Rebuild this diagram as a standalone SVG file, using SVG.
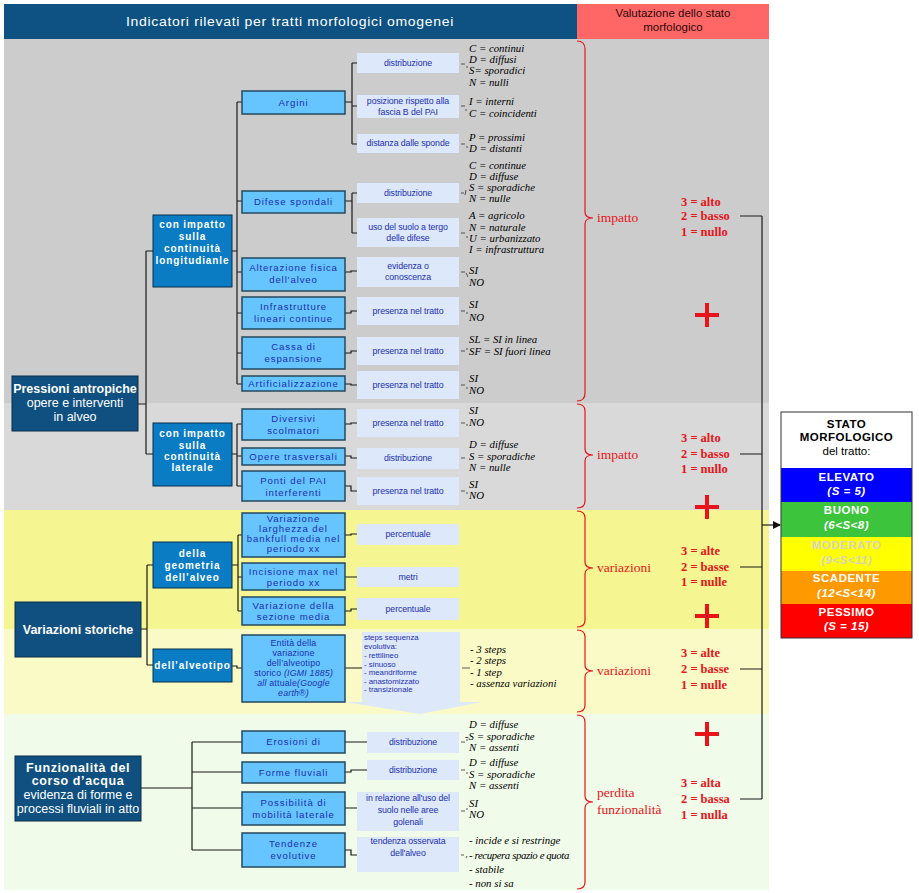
<svg xmlns="http://www.w3.org/2000/svg" width="919" height="893" viewBox="0 0 919 893">
<defs>
<style>
.sans{font-family:"Liberation Sans",Arial,sans-serif}
.hdr{font-family:"Liberation Sans",Arial,sans-serif;fill:#fff;font-size:12.5px;letter-spacing:0.6px}
.dark{fill:#0f5080;stroke:#0a2f4a;stroke-width:1}
.med{fill:#0a7cc4;stroke:#0a2f4a;stroke-width:1}
.lb{fill:#66c5ff;stroke:#24485f;stroke-width:1.5}
.pale{fill:#dde8fa}
.tdark{font-family:"Liberation Sans",Arial,sans-serif;fill:#fff;font-size:12.5px;text-anchor:middle}
.tmed{font-family:"Liberation Sans",Arial,sans-serif;fill:#fff;font-size:10px;font-weight:bold;text-anchor:middle;letter-spacing:0.9px}
.tlb{font-family:"Liberation Sans",Arial,sans-serif;fill:#1b2fb0;font-size:9.6px;text-anchor:middle;letter-spacing:0.9px}
.tent{font-family:"Liberation Sans",Arial,sans-serif;fill:#1b2fb0;font-size:8.8px;text-anchor:middle;letter-spacing:0.2px}
.tp{font-family:"Liberation Sans",Arial,sans-serif;fill:#1b2fb0;font-size:8.8px;text-anchor:middle;letter-spacing:-0.1px}
.tpl{font-family:"Liberation Sans",Arial,sans-serif;fill:#1b2fb0;font-size:7.8px}
.val{font-family:"Liberation Serif","Times New Roman",serif;font-style:italic;font-size:10.8px;fill:#000}
.red{font-family:"Liberation Serif","Times New Roman",serif;font-size:13.5px;fill:#e8141b}
.score{font-family:"Liberation Serif","Times New Roman",serif;font-size:12.5px;fill:#e8141b;font-weight:bold}
.conn{fill:none;stroke:#1a1a1a;stroke-width:1.2}
.dash{fill:none;stroke:#333;stroke-width:0.8}
.brace{fill:none;stroke:#e8141b;stroke-width:1.2}
.plus{fill:none;stroke:#e8141b;stroke-width:4}
.st{font-family:"Liberation Sans",Arial,sans-serif;font-size:11.5px;text-anchor:middle;font-weight:bold;letter-spacing:0.5px}
</style>
<marker id="arr" markerWidth="8" markerHeight="8" refX="7" refY="4" orient="auto" markerUnits="userSpaceOnUse">
<path d="M0,0 L8,4 L0,8 Z" fill="#111"/>
</marker>
</defs>
<rect width="919" height="893" fill="#fff"/>
<!-- bands -->
<rect x="4" y="39" width="765" height="364" fill="#cccccc"/>
<rect x="4" y="403" width="765" height="107" fill="#d9d9d9"/>
<rect x="4" y="510" width="765" height="119" fill="#f5f591"/>
<rect x="4" y="629" width="765" height="85" fill="#fafac6"/>
<rect x="4" y="714" width="765" height="176" fill="#f0fbe9"/>
<!-- headers -->
<g id="header">
<rect x="4" y="4" width="573" height="35" fill="#0d5282"/>
<text class="hdr" x="290" y="26" text-anchor="middle" textLength="328" lengthAdjust="spacingAndGlyphs">Indicatori rilevati per tratti morfologici omogenei</text>
<rect x="577" y="4" width="192" height="35" fill="#ff6666"/>
<text class="sans" x="673" y="17" text-anchor="middle" font-size="11.5" fill="#2a0a0a">Valutazione dello stato</text>
<text class="sans" x="673" y="31" text-anchor="middle" font-size="11.5" fill="#2a0a0a">morfologico</text>
</g>
<!-- connectors -->
<g id="connectors">
<path class="conn" d="M138,404 H146 M146,251 V454 M146,251 H153 M146,454 H153"/>
<path class="conn" d="M232,251 H237 M237,102 V384 M237,102 H242 M237,201 H242 M237,272 H242 M237,313 H242 M237,353 H242 M237,384 H242"/>
<path class="conn" d="M232,454 H237 M237,424 V486 M237,424 H242 M237,456 H242 M237,486 H242"/>
<path class="conn" d="M345,102 H352 M352,63 V144 M352,63 H357 M352,106 H357 M352,144 H357"/>
<path class="conn" d="M345,201 H352 M352,193 V233 M352,193 H357 M352,233 H357"/>
<path class="conn" d="M345,272 H351 V271 H357 M345,313 H351 V311 H357 M345,353 H351 V351 H357 M345,384 H351 V385 H357 M345,424 H351 V423 H357 M345,456 H351 V458 H357 M345,486 H351 V491 H357"/>
<path class="conn" d="M141,629 H147 M147,565 V665 M147,565 H153 M147,665 H153"/>
<path class="conn" d="M232,565 H238 M238,535 V611 M238,535 H242 M238,577 H242 M238,611 H242"/>
<path class="conn" d="M232,666 H237 V668 H242"/>
<path class="conn" d="M345,535 H351 V534 H357 M345,577 H357 M345,611 H351 V609 H357 M345,668 H362"/>
<path class="conn" d="M141,788 H192 M192,742 V850 M192,742 H242 M192,772 H242 M192,808 H242 M192,850 H242"/>
<path class="conn" d="M345,742 H367 M345,772 H351 V770 H367 M345,808 H367 M345,850 H351 V855 H367"/>
<!-- small dashes to values -->
<path class="dash" d="M461,64 H465 M466,67 L468,67 M461,106 H465 M465,110 H467 M461,144 H465 M466,147 H468 M461,193 H464 M466,190 L465,195 M461,233 H465 M466,237 H468 M461,272 H465 M466,273 L468,277 M461,311 H465 M466,313 H468 M461,351 H465 M466,349 H468 M461,385 H465 M466,388 H468 M461,423 H465 M466,425 H468 M461,458 H465 M461,491 H465 M466,493 H468 M462,668 H470 M461,742 H465 M466,740 H468 M461,770 H465 M466,773 H468 M461,811 H465 M466,809 H468 M461,855 H464 M466,858 L467,856"/>
<!-- to state box -->
<path class="conn" d="M740,216 H762 M740,454 H762 M740,567 H762 M740,669 H762 M740,799 H762 M762,216 V799"/>
<path class="conn" d="M762,525 H780" marker-end="url(#arr)"/>
</g>
<!-- level 1 -->
<g id="n-pressioni">
<rect class="dark" x="12" y="376" width="126" height="55"/>
<text class="tdark" x="75" y="393" font-weight="bold">Pressioni antropiche</text>
<text class="tdark" x="75" y="407">opere e interventi</text>
<text class="tdark" x="75" y="421">in alveo</text>
</g>
<g id="n-variazioni">
<rect class="dark" x="15" y="602" width="126" height="55"/>
<text class="tdark" x="78" y="634" font-weight="bold">Variazioni storiche</text>
</g>
<g id="n-funzionalita">
<rect class="dark" x="15" y="756" width="126" height="65"/>
<text class="tdark" x="78" y="772" font-weight="bold" letter-spacing="0.6">Funzionalità del</text>
<text class="tdark" x="78" y="785" font-weight="bold" letter-spacing="0.6">corso d’acqua</text>
<text class="tdark" x="78" y="799">evidenza di forme e</text>
<text class="tdark" x="78" y="813">processi fluviali in atto</text>
</g>
<!-- level 2 -->
<g id="n-longitudinale">
<rect class="med" x="153" y="215" width="79" height="72"/>
<text class="tmed" x="192.5" y="228">con impatto</text>
<text class="tmed" x="192.5" y="240">sulla</text>
<text class="tmed" x="192.5" y="252">continuità</text>
<text class="tmed" x="192.5" y="264" letter-spacing="0.3">longitudianle</text>
</g>
<g id="n-laterale">
<rect class="med" x="153" y="423" width="79" height="63"/>
<text class="tmed" x="192.5" y="437">con impatto</text>
<text class="tmed" x="192.5" y="449">sulla</text>
<text class="tmed" x="192.5" y="460">continuità</text>
<text class="tmed" x="192.5" y="471">laterale</text>
</g>
<g id="n-geometria">
<rect class="med" x="153" y="542" width="79" height="46"/>
<text class="tmed" x="192.5" y="557">della</text>
<text class="tmed" x="192.5" y="569">geometria</text>
<text class="tmed" x="192.5" y="581">dell’alveo</text>
</g>
<g id="n-alveotipo">
<rect class="med" x="153" y="649" width="79" height="33"/>
<text class="tmed" x="192.5" y="669" letter-spacing="0.5">dell’alveotipo</text>
</g>
<!-- level 3 -->
<g id="n-argini"><rect class="lb" x="242" y="91" width="103" height="23"/><text class="tlb" x="293.5" y="106">Argini</text></g>
<g id="n-difese"><rect class="lb" x="242" y="191" width="103" height="22"/><text class="tlb" x="293.5" y="205">Difese spondali</text></g>
<g id="n-alterazione"><rect class="lb" x="242" y="258" width="103" height="33"/><text class="tlb" x="293.5" y="271">Alterazione fisica</text><text class="tlb" x="293.5" y="283">dell'alveo</text></g>
<g id="n-infrastrutture"><rect class="lb" x="242" y="297" width="103" height="32"/><text class="tlb" x="293.5" y="310">Infrastrutture</text><text class="tlb" x="293.5" y="322">lineari continue</text></g>
<g id="n-cassa"><rect class="lb" x="242" y="337" width="103" height="32"/><text class="tlb" x="293.5" y="350">Cassa di</text><text class="tlb" x="293.5" y="362">espansione</text></g>
<g id="n-artificializzazione"><rect class="lb" x="242" y="376" width="103" height="15"/><text class="tlb" x="293.5" y="387" letter-spacing="0.5">Artificializzazione</text></g>
<g id="n-diversivi"><rect class="lb" x="242" y="409" width="103" height="31"/><text class="tlb" x="293.5" y="422">Diversivi</text><text class="tlb" x="293.5" y="434">scolmatori</text></g>
<g id="n-opere"><rect class="lb" x="242" y="448" width="103" height="17"/><text class="tlb" x="293.5" y="460" letter-spacing="0.6">Opere trasversali</text></g>
<g id="n-ponti"><rect class="lb" x="242" y="471" width="103" height="30"/><text class="tlb" x="293.5" y="484">Ponti del PAI</text><text class="tlb" x="293.5" y="496">interferenti</text></g>
<g id="n-larghezza"><rect class="lb" x="242" y="513" width="103" height="44"/><text class="tlb" x="293.5" y="522">Variazione</text><text class="tlb" x="293.5" y="532">larghezza del</text><text class="tlb" x="293.5" y="542" letter-spacing="0.4">bankfull media nel</text><text class="tlb" x="293.5" y="552">periodo xx</text></g>
<g id="n-incisione"><rect class="lb" x="242" y="563" width="103" height="27"/><text class="tlb" x="293.5" y="575">Incisione max nel</text><text class="tlb" x="293.5" y="586">periodo xx</text></g>
<g id="n-sezione"><rect class="lb" x="242" y="597" width="103" height="28"/><text class="tlb" x="293.5" y="609">Variazione della</text><text class="tlb" x="293.5" y="620">sezione media</text></g>
<g id="n-entita"><rect class="lb" x="242" y="635" width="103" height="67"/>
<text class="tent" x="293.5" y="646">Entità della</text>
<text class="tent" x="293.5" y="656">variazione</text>
<text class="tent" x="293.5" y="666">dell’alveotipo</text>
<text class="tent" x="293.5" y="676">storico <tspan font-style="italic">(IGMI 1885)</tspan></text>
<text class="tent" x="293.5" y="686"><tspan font-style="italic">all</tspan> attuale<tspan font-style="italic">(Google</tspan></text>
<text class="tent" x="293.5" y="696" font-style="italic">earth®)</text>
</g>
<g id="n-erosioni"><rect class="lb" x="242" y="731" width="103" height="22"/><text class="tlb" x="293.5" y="745">Erosioni di</text></g>
<g id="n-forme"><rect class="lb" x="242" y="762" width="103" height="21"/><text class="tlb" x="293.5" y="776">Forme fluviali</text></g>
<g id="n-mobilita"><rect class="lb" x="242" y="792" width="103" height="33"/><text class="tlb" x="293.5" y="806">Possibilità di</text><text class="tlb" x="293.5" y="818">mobilità laterale</text></g>
<g id="n-tendenze"><rect class="lb" x="242" y="833" width="103" height="34"/><text class="tlb" x="293.5" y="847">Tendenze</text><text class="tlb" x="293.5" y="859">evolutive</text></g>
<!-- level 4 -->
<g id="p-arg-distr"><rect class="pale" x="357" y="53" width="102" height="20"/><text class="tp" x="408" y="66">distribuzione</text></g>
<g id="p-arg-pos"><rect class="pale" x="357" y="95" width="102" height="23"/><text class="tp" x="408" y="104">posizione rispetto alla</text><text class="tp" x="408" y="115">fascia B del PAI</text></g>
<g id="p-arg-dist"><rect class="pale" x="357" y="134" width="102" height="19"/><text class="tp" x="408" y="146">distanza dalle sponde</text></g>
<g id="p-dif-distr"><rect class="pale" x="357" y="183" width="102" height="20"/><text class="tp" x="408" y="196">distribuzione</text></g>
<g id="p-dif-uso"><rect class="pale" x="357" y="218" width="102" height="29"/><text class="tp" x="408" y="230">uso del suolo a tergo</text><text class="tp" x="408" y="241">delle difese</text></g>
<g id="p-alt"><rect class="pale" x="357" y="257" width="102" height="30"/><text class="tp" x="408" y="269">evidenza o</text><text class="tp" x="408" y="280">conoscenza</text></g>
<g id="p-inf"><rect class="pale" x="357" y="297" width="102" height="28"/><text class="tp" x="408" y="314">presenza nel tratto</text></g>
<g id="p-cassa"><rect class="pale" x="357" y="337" width="102" height="28"/><text class="tp" x="408" y="354">presenza nel tratto</text></g>
<g id="p-art"><rect class="pale" x="357" y="371" width="102" height="28"/><text class="tp" x="408" y="388">presenza nel tratto</text></g>
<g id="p-div"><rect class="pale" x="357" y="409" width="102" height="28"/><text class="tp" x="408" y="426">presenza nel tratto</text></g>
<g id="p-ope"><rect class="pale" x="357" y="448" width="102" height="21"/><text class="tp" x="408" y="461">distribuzione</text></g>
<g id="p-pon"><rect class="pale" x="357" y="477" width="102" height="28"/><text class="tp" x="408" y="494">presenza nel tratto</text></g>
<g id="p-larg"><rect class="pale" x="357" y="524" width="102" height="21"/><text class="tp" x="408" y="537">percentuale</text></g>
<g id="p-inc"><rect class="pale" x="357" y="567" width="102" height="20"/><text class="tp" x="408" y="580">metri</text></g>
<g id="p-sez"><rect class="pale" x="357" y="598" width="102" height="22"/><text class="tp" x="408" y="612">percentuale</text></g>
<g id="p-steps">
<path class="pale" d="M362,632 H460 V702 H482 L420,714 L345,702 H362 Z"/>
<text class="tpl" x="364" y="640">steps sequenza</text>
<text class="tpl" x="364" y="649">evolutiva:</text>
<text class="tpl" x="364" y="658">- rettilineo</text>
<text class="tpl" x="364" y="666.5">- sinuoso</text>
<text class="tpl" x="364" y="675">- meandriforme</text>
<text class="tpl" x="364" y="683.5">- anastomizzato</text>
<text class="tpl" x="364" y="692">- transizionale</text>
</g>
<g id="p-ero"><rect class="pale" x="367" y="732" width="92" height="21"/><text class="tp" x="413" y="745">distribuzione</text></g>
<g id="p-for"><rect class="pale" x="367" y="760" width="92" height="20"/><text class="tp" x="413" y="773">distribuzione</text></g>
<g id="p-mob"><rect class="pale" x="357" y="792" width="102" height="39"/><text class="tp" x="408" y="801">in relazione all'uso del</text><text class="tp" x="408" y="813">suolo nelle aree</text><text class="tp" x="408" y="825">golenali</text></g>
<g id="p-ten"><rect class="pale" x="357" y="837" width="102" height="35"/><text class="tp" x="408" y="844">tendenza osservata</text><text class="tp" x="408" y="856">dell'alveo</text></g>
<!-- values -->
<g id="values">
<text class="val" x="469" y="52">C = continui</text>
<text class="val" x="469" y="63">D = diffusi</text>
<text class="val" x="469" y="74">S= sporadici</text>
<text class="val" x="469" y="86">N = nulli</text>
<text class="val" x="469" y="105">I =  interni</text>
<text class="val" x="469" y="117">C = coincidenti</text>
<text class="val" x="469" y="141">P = prossimi</text>
<text class="val" x="469" y="152">D = distanti</text>
<text class="val" x="469" y="169">C = continue</text>
<text class="val" x="469" y="180">D = diffuse</text>
<text class="val" x="469" y="191">S = sporadiche</text>
<text class="val" x="469" y="202">N = nulle</text>
<text class="val" x="469" y="219">A = agricolo</text>
<text class="val" x="469" y="231">N = naturale</text>
<text class="val" x="469" y="242">U = urbanizzato</text>
<text class="val" x="469" y="253">I = infrastruttura</text>
<text class="val" x="469" y="274">SI</text><text class="val" x="469" y="286">NO</text>
<text class="val" x="469" y="308">SI</text><text class="val" x="469" y="321">NO</text>
<text class="val" x="469" y="343">SL = SI  in linea</text>
<text class="val" x="469" y="355">SF = SI fuori linea</text>
<text class="val" x="469" y="382">SI</text><text class="val" x="469" y="394">NO</text>
<text class="val" x="469" y="414">SI</text><text class="val" x="469" y="426">NO</text>
<text class="val" x="469" y="448">D = diffuse</text>
<text class="val" x="469" y="460">S = sporadiche</text>
<text class="val" x="469" y="471">N = nulle</text>
<text class="val" x="469" y="488">SI</text><text class="val" x="469" y="499">NO</text>
<text class="val" x="470" y="653">- 3 steps</text>
<text class="val" x="470" y="664">- 2 steps</text>
<text class="val" x="470" y="676">- 1 step</text>
<text class="val" x="470" y="687">- assenza variazioni</text>
<text class="val" x="469" y="728">D = diffuse</text>
<text class="val" x="465" y="740">-S = sporadiche</text>
<text class="val" x="469" y="751">N = assenti</text>
<text class="val" x="469" y="766">D = diffuse</text>
<text class="val" x="469" y="778">S = sporadiche</text>
<text class="val" x="469" y="789">N = assenti</text>
<text class="val" x="469" y="807">SI</text><text class="val" x="469" y="818">NO</text>
<text class="val" x="469" y="844">- incide e si restringe</text>
<text class="val" x="469" y="859" letter-spacing="-0.4">- recupera spazio e quota</text>
<text class="val" x="469" y="873">- stabile</text>
<text class="val" x="469" y="887">- non si sa</text>
</g>
<!-- braces and valuation -->
<g id="valutazione">
<path class="brace" d="M577,41 Q585,41 585,49 V212 Q585,218 593,218 Q585,218 585,224 V393 Q585,401 577,401"/>
<path class="brace" d="M577,404 Q585,404 585,411 V449 Q585,455 593,455 Q585,455 585,461 V501 Q585,508 577,508"/>
<path class="brace" d="M577,511 Q585,511 585,518 V562 Q585,568 593,568 Q585,568 585,574 V620 Q585,627 577,627"/>
<path class="brace" d="M577,630 Q585,630 585,637 V665 Q585,671 593,671 Q585,671 585,677 V705 Q585,712 577,712"/>
<path class="brace" d="M577,715 Q585,715 585,722 V796 Q585,802 593,802 Q585,802 585,808 V882 Q585,889 577,889"/>
<text class="red" x="597" y="222">impatto</text>
<text class="red" x="597" y="459">impatto</text>
<text class="red" x="597" y="572">variazioni</text>
<text class="red" x="597" y="675">variazioni</text>
<text class="red" x="597" y="797">perdita</text>
<text class="red" x="597" y="814">funzionalità</text>
<text class="score" x="681" y="206">3  = alto</text>
<text class="score" x="681" y="220">2 = basso</text>
<text class="score" x="681" y="236">1 =  nullo</text>
<text class="score" x="681" y="442">3  = alto</text>
<text class="score" x="681" y="458">2 = basso</text>
<text class="score" x="681" y="473">1 =  nullo</text>
<text class="score" x="681" y="555">3  = alte</text>
<text class="score" x="681" y="571">2 = basse</text>
<text class="score" x="681" y="586">1 =  nulle</text>
<text class="score" x="681" y="657">3  = alte</text>
<text class="score" x="681" y="673">2 = basse</text>
<text class="score" x="681" y="689">1 =  nulle</text>
<text class="score" x="681" y="787">3  = alta</text>
<text class="score" x="681" y="803">2 = bassa</text>
<text class="score" x="681" y="819">1 =  nulla</text>
<path class="plus" d="M695,315 H719 M707,303 V327"/>
<path class="plus" d="M695,507 H719 M707,495 V519"/>
<path class="plus" d="M695,616 H719 M707,604 V628"/>
<path class="plus" d="M695,734 H719 M707,722 V746"/>
</g>
<!-- state box -->
<g id="stato">
<rect x="781" y="412" width="131" height="56" fill="#fff"/>
<rect x="781" y="468" width="131" height="34" fill="#0000ff"/>
<rect x="781" y="502" width="131" height="35" fill="#3cc43c"/>
<rect x="781" y="537" width="131" height="34" fill="#ffff00"/>
<rect x="781" y="571" width="131" height="33" fill="#ff9900"/>
<rect x="781" y="604" width="131" height="34" fill="#ff0000"/>
<rect x="781" y="412" width="131" height="226" fill="none" stroke="#333" stroke-width="1"/>
<text class="st" x="846.5" y="428" fill="#000">STATO</text>
<text class="st" x="846.5" y="441" fill="#000">MORFOLOGICO</text>
<text class="sans" x="846.5" y="455" text-anchor="middle" font-size="11.5" fill="#000">del tratto:</text>
<text class="st" x="846.5" y="481" fill="#fff" letter-spacing="1.5">ELEVATO</text>
<text class="st" x="846.5" y="495" fill="#fff" font-style="italic">(S = 5)</text>
<text class="st" x="846.5" y="514" fill="#fff">BUONO</text>
<text class="st" x="846.5" y="529" fill="#fff" font-style="italic">(6&lt;S&lt;8)</text>
<text class="st" x="846.5" y="549" fill="#d4d4c8">MODERATO</text>
<text class="st" x="846.5" y="564" fill="#d4d4c8" font-style="italic">(9&lt;S&lt;11)</text>
<text class="st" x="846.5" y="582" fill="#fff">SCADENTE</text>
<text class="st" x="846.5" y="597" fill="#fff" font-style="italic">(12&lt;S&lt;14)</text>
<text class="st" x="846.5" y="616" fill="#fff">PESSIMO</text>
<text class="st" x="846.5" y="630" fill="#fff" font-style="italic">(S = 15)</text>
</g>
</svg>
